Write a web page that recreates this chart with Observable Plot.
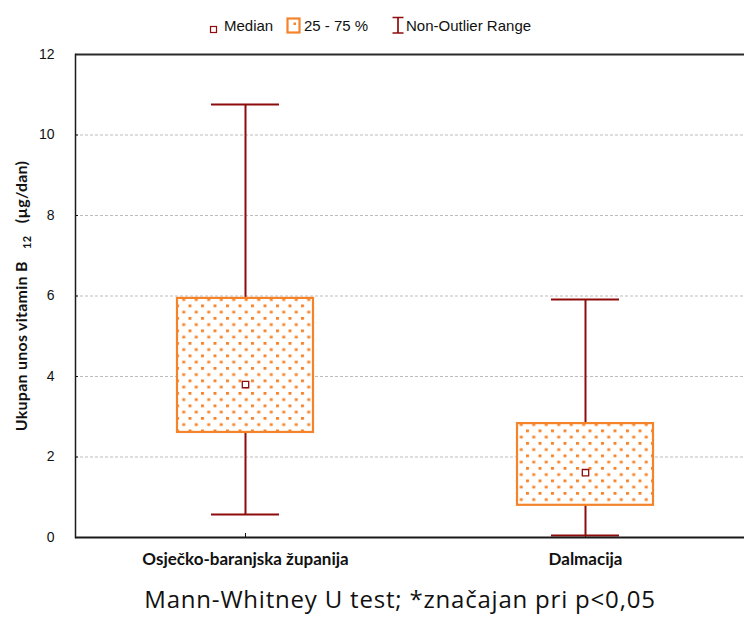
<!DOCTYPE html>
<html>
<head>
<meta charset="utf-8">
<script src="https://cdn.jsdelivr.net/npm/d3@7"></script>
<script src="https://cdn.jsdelivr.net/npm/@observablehq/plot@0.6"></script>
<style>
  html, body { margin: 0; padding: 0; background: #fff; }
  #wrap { position: relative; width: 744px; height: 623px; overflow: hidden; }
  #legend { position: absolute; left: 0; top: 0; width: 744px; height: 40px;
    font-family: "Liberation Sans", Arial, sans-serif; font-size: 15px; color: #111; }
  #legend > * { position: absolute; }
  #legend span { top: 17px; line-height: 17px; white-space: nowrap; }
  #chart { position: absolute; left: 0; top: 40px; }
  #caption { position: absolute; left: 0; top: 582px; width: 800px; text-align: center; font-family: "Open Sans", Lato, sans-serif; font-size: 24px; letter-spacing: 0.8px; color: #111; }
</style>
</head>
<body>
<div id="wrap">
  <div id="legend"></div>
  <div id="chart"></div>
  <div id="caption"></div>
</div>
<script>
// ---- data ----
const groups = ["Osječko-baranjska županija", "Dalmacija"];
const medians = [3.80, 1.61];
const q1 = [2.61, 0.80];
const q3 = [5.94, 2.83];
const nonOutlierMin = [0.57, 0.05];
const nonOutlierMax = [10.76, 5.91];
const yTicks = [0, 2, 4, 6, 8, 10, 12];
const gridTicks = [2, 4, 6, 8, 10];
const yLabel = ["Ukupan unos vitamin B", "12", "(µg/dan)"];
const legendLabels = ["Median", "25 - 75 %", "Non-Outlier Range"];
const captionText = "Mann-Whitney U test; *značajan pri p<0,05";

const orange = "#f5832a";
const darkRed = "#8e0c0c";

const rows = groups.map((g, i) => ({
  group: g, median: medians[i], q1: q1[i], q3: q3[i], lo: nonOutlierMin[i], hi: nonOutlierMax[i]
}));

const chart = Plot.plot({
  width: 744,
  height: 537,
  marginTop: 14,
  marginLeft: 75,
  marginRight: 0,
  marginBottom: 40,
  style: { fontFamily: "'Liberation Sans', Arial, sans-serif", fontSize: "14px", color: "#111", background: "transparent" },
  x: { type: "band", domain: groups, range: [75, 755], paddingInner: 0.6, paddingOuter: 0.3, label: null },
  y: { domain: [0, 12], label: null },
  marks: [
    Plot.ruleY(gridTicks, { stroke: "#bdbdbd", strokeWidth: 1, strokeDasharray: "3,2" }),
    Plot.axisY({ ticks: yTicks, tickSize: -3, tickPadding: 24, label: null, fontSize: 14, stroke: "#111" }),
    Plot.axisX({ tickSize: -4, tickPadding: 19, label: null, fontFamily: "Lato, sans-serif", fontWeight: "bold", fontSize: 17, stroke: "#111",
      style: { letterSpacing: "0.7px" } }),
    // whiskers
    Plot.ruleX(rows, { x: "group", y1: "lo", y2: "hi", stroke: darkRed, strokeWidth: 2 }),
    Plot.tickY(rows, { x: "group", y: "hi", stroke: darkRed, strokeWidth: 2, insetLeft: 34, insetRight: 34 }),
    Plot.tickY(rows, { x: "group", y: "lo", stroke: darkRed, strokeWidth: 2, insetLeft: 34, insetRight: 34 }),
    // boxes
    Plot.barY(rows, { x: "group", y1: "q1", y2: "q3", fill: "white" }),
    Plot.barY(rows, { x: "group", y1: "q1", y2: "q3", fill: "url(#dots)", stroke: orange, strokeWidth: 2.2 }),
    // medians
    Plot.dot(rows, { x: "group", y: "median", symbol: "square", r: 3.6, fill: "white", stroke: darkRed, strokeWidth: 1.3 }),
    // frame lines
    Plot.ruleY([0], { stroke: "#1a1a1a", strokeWidth: 2 }),
    Plot.ruleY([12], { stroke: "#2a2a2a", strokeWidth: 2 }),
    Plot.frame({ anchor: "left", stroke: "#1a1a1a", strokeWidth: 1.5 }),
    // y label
    Plot.text([yLabel.join(" ")], { frameAnchor: "left", dx: -54, rotate: -90, textAnchor: "middle", className: "ylab",
      fontFamily: "Lato, sans-serif", fontWeight: "bold", fontSize: 16, fill: "#111" })
  ]
});

// pattern definition for boxes
const ns = "http://www.w3.org/2000/svg";
const defs = document.createElementNS(ns, "defs");
defs.innerHTML = `<pattern id="dots" patternUnits="userSpaceOnUse" width="12.5" height="12.5" x="1" y="2">
  <rect x="0" y="0" width="3" height="2.7" fill="${orange}"/>
  <rect x="6.25" y="6.25" width="3" height="2.7" fill="${orange}"/>
</pattern>`;
chart.insertBefore(defs, chart.firstChild);

// y label with subscript
const yl = chart.querySelector(".ylab text");
if (yl) {
  yl.textContent = "";
  yl.setAttribute("style", "letter-spacing:0.25px");
  const t1 = document.createElementNS(ns, "tspan"); t1.textContent = yLabel[0] + "   ";
  const t2 = document.createElementNS(ns, "tspan"); t2.textContent = yLabel[1];
  t2.setAttribute("font-size", "11"); t2.setAttribute("dy", "4");
  const t3 = document.createElementNS(ns, "tspan"); t3.textContent = "   " + yLabel[2];
  t3.setAttribute("dy", "-4");
  yl.append(t1, t2, t3);
}

document.getElementById("chart").appendChild(chart);

// legend (icons + labels)
const legend = document.getElementById("legend");
const icons = [
  { left: 209, top: 21, html: `<svg width="10" height="10"><rect x="1.5" y="1.5" width="6" height="6" fill="white" stroke="${darkRed}" stroke-width="1.2"/></svg>` },
  { left: 286, top: 17, html: `<svg width="16" height="18"><rect x="1.5" y="1.5" width="12" height="14" fill="white" stroke="${orange}" stroke-width="2.2"/><rect x="7.5" y="5.5" width="2.5" height="2.5" fill="${orange}"/></svg>` },
  { left: 391, top: 16, html: `<svg width="14" height="19"><path d="M1.5,1.5H12.5M7,1.5V17M1.5,17H12.5" stroke="${darkRed}" stroke-width="1.7" fill="none"/></svg>` }
];
const textLefts = [224, 304, 406];
legendLabels.forEach((lab, i) => {
  const ic = document.createElement("div");
  ic.style.left = icons[i].left + "px";
  ic.style.top = icons[i].top + "px";
  ic.innerHTML = icons[i].html;
  legend.appendChild(ic);
  const s = document.createElement("span");
  s.style.left = textLefts[i] + "px";
  s.textContent = lab;
  legend.appendChild(s);
});

document.getElementById("caption").textContent = captionText;
</script>
</body>
</html>
